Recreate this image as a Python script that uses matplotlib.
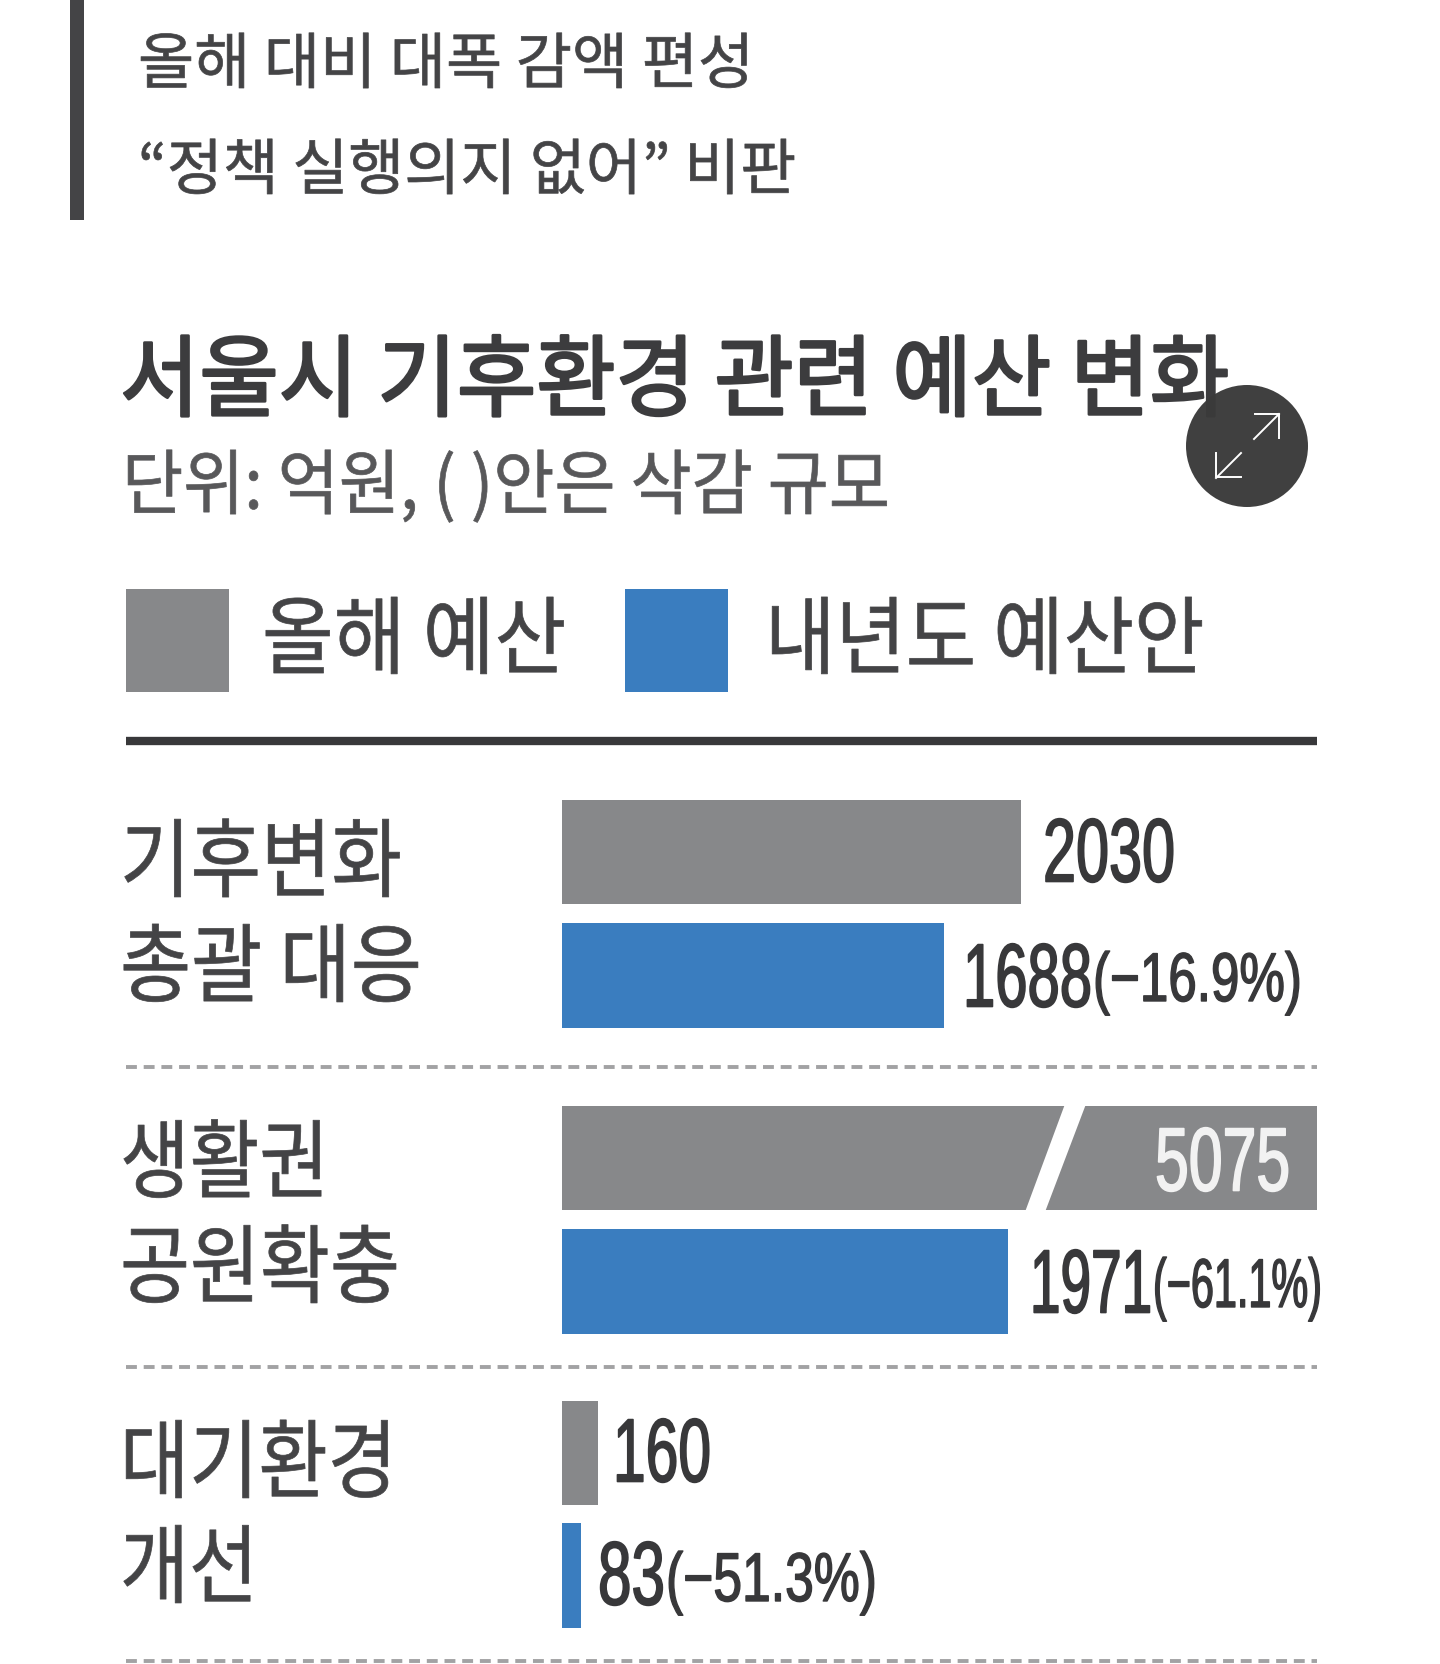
import matplotlib
matplotlib.use("Agg")
import matplotlib.pyplot as plt
from matplotlib.patches import Rectangle, Circle, Polygon
from matplotlib.patheffects import AbstractPathEffect
from matplotlib.transforms import Affine2D

KR = ['Noto Sans CJK KR', 'DejaVu Sans']
NUM = ['Liberation Sans', 'DejaVu Sans']
plt.rcParams['font.family'] = KR

# data
headline = ["올해 대비 대폭 감액 편성", "“정책 실행의지 없어” 비판"]
title = "서울시 기후환경 관련 예산 변화"
subtitle = "단위: 억원, ( )안은 삭감 규모"
legend_names = ["올해 예산", "내년도 예산안"]
categories = [["기후변화", "총괄 대응"], ["생활권", "공원확충"], ["대기환경", "개선"]]
this_year = [2030, 5075, 160]
next_year = [1688, 1971, 83]
cuts = ["(−16.9%)", "(−61.1%)", "(−51.3%)"]

GRAY = '#87888a'
BLUE = '#3a7dbf'
INK = '#444446'
W, H = 1440, 1664

fig = plt.figure(figsize=(W / 100, H / 100), dpi=100, facecolor='white')
renderer = fig.canvas.get_renderer()


def px(size):
    # font size in points from pixels at dpi 100
    return size * 0.72


# the print type is condensed, so squeeze the glyphs sideways from the text's left end
class Squeeze(AbstractPathEffect):
    def __init__(self, sx, stroke=0.0):
        super().__init__()
        self.sx = sx
        self.stroke = stroke

    def draw_path(self, renderer, gc, tpath, affine, rgbFace=None):
        m = affine.get_matrix().copy()
        m[0, 0] *= self.sx
        m[0, 1] *= self.sx
        gc0 = renderer.new_gc()
        gc0.copy_properties(gc)
        gc0.set_linewidth(self.stroke)
        gc0.set_foreground(rgbFace)
        renderer.draw_path(gc0, tpath, Affine2D(m), rgbFace)
        gc0.restore()


def fit_text(axes, x0, x1, y, s, size, color=INK, family=None, stroke=0.0, weight='normal'):
    t = axes.text(x0, y, s, fontsize=px(size), color=color, va='center', ha='left',
                  family=family or KR, fontweight=weight)
    natural = t.get_window_extent(renderer).width
    t.set_path_effects([Squeeze((x1 - x0) / natural, stroke)])
    return t


# whole figure layer, in pixels
bg = fig.add_axes([0, 0, 1, 1])
bg.set_xlim(0, W)
bg.set_ylim(H, 0)
bg.axis('off')

bg.add_patch(Rectangle((70, 0), 14, 220, color='#444446', lw=0))
fit_text(bg, 138, 754, 66, headline[0], 61, stroke=0.5)
fit_text(bg, 138, 796, 172, headline[1], 61, stroke=0.5)
fit_text(bg, 120, 1229, 384, title, 89, color='#3c3c3e', stroke=1.9)
fit_text(bg, 122, 889, 488, subtitle, 71, color='#58585a', stroke=0.5)

bg.add_patch(Rectangle((126, 589), 103, 103, color=GRAY, lw=0))
bg.add_patch(Rectangle((625, 589), 103, 103, color=BLUE, lw=0))
fit_text(bg, 262, 566, 643, legend_names[0], 85, stroke=0.5)
fit_text(bg, 765, 1204, 643, legend_names[1], 85, stroke=0.5)

bg.plot([126, 1317], [741, 741], color='#38383a', lw=6, solid_capstyle='butt')
for y in [1067, 1367, 1661]:
    bg.plot([126, 1317], [y, y], color='#a2a2a4', lw=2.8, linestyle=(0, (2.8, 1.75)))

label_y = [[866, 971], [1167, 1272], [1467, 1572]]
label_x1 = [[402, 422], [329, 400], [397, 258]]
for names, ys, ends in zip(categories, label_y, label_x1):
    for name, y, x1 in zip(names, ys, ends):
        fit_text(bg, 120, x1, y, name, 86, stroke=0.5)

# bars, x is in 억원; 1 unit = 0.2261 px and the long bar is cut at the right edge
ax = fig.add_axes([562 / W, 0, 755 / W, 1])
ax.set_xlim(0, 755 / 0.2261)
ax.set_ylim(H, 0)
ax.axis('off')
ax.patch.set_alpha(0)

gray_y = [852, 1158, 1453]
blue_y = [975, 1281, 1575]
ax.barh(gray_y, this_year, height=104, color=GRAY, lw=0)
ax.barh(blue_y, next_year, height=105, color=BLUE, lw=0)

top = fig.add_axes([0, 0, 1, 1])
top.set_xlim(0, W)
top.set_ylim(H, 0)
top.axis('off')
top.patch.set_alpha(0)
# white slash that marks the broken bar
top.add_patch(Polygon([(1065, 1104), (1086, 1104), (1045, 1212), (1025, 1212)], color='white', lw=0))

DARK = '#38383a'
fit_text(top, 1043, 1175, gray_y[0] + 6, str(this_year[0]), 90, color=DARK, family=NUM, stroke=1.2)
fit_text(top, 1155, 1290, gray_y[1] + 9, str(this_year[1]), 90, color='#f2f2f2', family=NUM, stroke=1.2)
fit_text(top, 613, 711, gray_y[2] + 5, str(this_year[2]), 90, color=DARK, family=NUM, stroke=1.2)

fit_text(top, 963, 1092, blue_y[0] + 8, str(next_year[0]), 90, color=DARK, family=NUM, stroke=1.2)
fit_text(top, 1093, 1302, blue_y[0] + 8, cuts[0], 69, color=DARK, family=NUM, stroke=1.0)
fit_text(top, 1030, 1152, blue_y[1] + 8, str(next_year[1]), 90, color=DARK, family=NUM, stroke=1.2)
fit_text(top, 1153, 1322, blue_y[1] + 8, cuts[1], 69, color=DARK, family=NUM, stroke=1.0)
fit_text(top, 598, 665, blue_y[2] + 6, str(next_year[2]), 90, color=DARK, family=NUM, stroke=1.2)
fit_text(top, 666, 877, blue_y[2] + 8, cuts[2], 69, color=DARK, family=NUM, stroke=1.0)

# expand button
top.add_patch(Circle((1247, 446), 61, facecolor='#3a3a3a', alpha=0.97, lw=0))
for x0, y0, x1, y1 in [(1254, 439, 1279, 414), (1241, 453, 1216, 478)]:
    top.plot([x0, x1], [y0, y1], color='white', lw=1.4)
top.plot([1255, 1279, 1279], [414, 414, 438], color='white', lw=1.4)
top.plot([1216, 1216, 1241], [453, 477, 477], color='white', lw=1.4)

fig.savefig('out.png', dpi=100, facecolor='white')
